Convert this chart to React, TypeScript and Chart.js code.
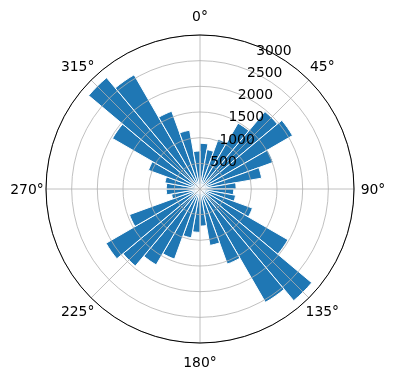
import React, { useEffect, useRef } from "react";
import { Chart, registerables } from "chart.js";

Chart.register(...registerables);

// 36 direction bins of 10°, centred at 5°, 15°, ... 355° (clockwise from north)
const binLabels: string[] = [
  "0-10°", "10-20°", "20-30°", "30-40°", "40-50°", "50-60°", "60-70°", "70-80°", "80-90°",
  "90-100°", "100-110°", "110-120°", "120-130°", "130-140°", "140-150°", "150-160°", "160-170°", "170-180°",
  "180-190°", "190-200°", "200-210°", "210-220°", "220-230°", "230-240°", "240-250°", "250-260°", "260-270°",
  "270-280°", "280-290°", "290-300°", "300-310°", "310-320°", "320-330°", "330-340°", "340-350°", "350-360°",
];
const counts: number[] = [
  950, 830, 1100, 1580, 2100, 2220, 1620, 1300, 750,
  700, 750, 1160, 2110, 3030, 2720, 1660, 1190, 770,
  900, 1030, 1550, 1820, 2090, 2255, 1560, 600, 700,
  700, 740, 1140, 2100, 3020, 2740, 1720, 1240, 790,
];
const radialTicks: number[] = [500, 1000, 1500, 2000, 2500, 3000];
const angleTicks: number[] = [0, 45, 90, 135, 180, 225, 270, 315];
const rMax = 3200;

const FONT = "13.9px 'DejaVu Sans', sans-serif";

const overlayPlugin = {
  id: "polarOverlay",
  afterDraw(chart: any) {
    const scale = chart.scales.r;
    const ctx = chart.ctx;
    const xc = scale.xCenter;
    const yc = scale.yCenter;
    const R = scale.getDistanceFromCenterForValue(rMax);
    ctx.save();
    // angle grid lines
    ctx.strokeStyle = "#b0b0b0";
    ctx.lineWidth = 0.8;
    for (const a of angleTicks) {
      const t = (a * Math.PI) / 180;
      ctx.beginPath();
      ctx.moveTo(xc, yc);
      ctx.lineTo(xc + R * Math.sin(t), yc - R * Math.cos(t));
      ctx.stroke();
    }
    // outer spine
    ctx.strokeStyle = "#000000";
    ctx.lineWidth = 1;
    ctx.beginPath();
    ctx.arc(xc, yc, R, 0, Math.PI * 2);
    ctx.stroke();
    // angle labels
    ctx.fillStyle = "#000000";
    ctx.font = FONT;
    ctx.textAlign = "center";
    ctx.textBaseline = "middle";
    for (const a of angleTicks) {
      const t = (a * Math.PI) / 180;
      const d = R + 19;
      ctx.fillText(a + "°", xc + d * Math.sin(t), yc - d * Math.cos(t) + 1);
    }
    // radial labels along 22.5°
    const lt = (22.5 * Math.PI) / 180;
    ctx.textAlign = "left";
    ctx.textBaseline = "alphabetic";
    for (const v of radialTicks) {
      const d = scale.getDistanceFromCenterForValue(v);
      ctx.fillText(String(v), xc + d * Math.sin(lt) + 1, yc - d * Math.cos(lt) - 1);
    }
    ctx.restore();
  },
};

export default function App() {
  const canvasRef = useRef<HTMLCanvasElement | null>(null);

  useEffect(() => {
    const canvas = canvasRef.current;
    if (!canvas) return;
    const chart = new Chart(canvas, {
      type: "polarArea",
      data: {
        labels: binLabels,
        datasets: [
          {
            data: counts,
            backgroundColor: "#1f77b4",
            borderColor: "#ffffff",
            borderWidth: 1,
          },
        ],
      },
      options: {
        animation: false,
        responsive: true,
        maintainAspectRatio: false,
        layout: { padding: { left: 46, right: 42, top: 35, bottom: 37 } },
        plugins: {
          legend: { display: false },
          tooltip: { enabled: false },
        },
        scales: {
          r: {
            min: 0,
            max: rMax,
            startAngle: 0,
            grid: { color: "#b0b0b0", lineWidth: 0.8, circular: true, z: 1 },
            angleLines: { display: false },
            pointLabels: { display: false },
            ticks: { display: false, stepSize: 500, includeBounds: false },
          },
        },
      },
      plugins: [overlayPlugin],
    });
    return () => chart.destroy();
  }, []);

  return (
    <div style={{ position: "absolute", left: 0, top: 0, width: 396, height: 380, background: "#ffffff" }}>
      <canvas ref={canvasRef} />
    </div>
  );
}
